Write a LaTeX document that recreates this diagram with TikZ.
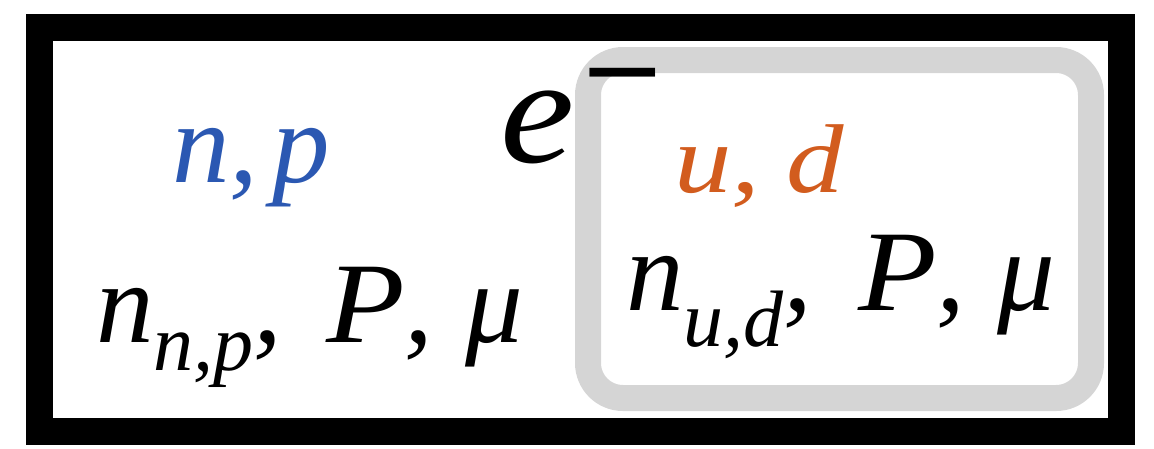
\documentclass[tikz,border=0pt]{standalone}
\usepackage{fontspec}
\setmainfont{Liberation Serif}
\definecolor{npblue}{HTML}{2B58B2}
\definecolor{udorange}{HTML}{D25C1E}
\definecolor{boxgray}{HTML}{D5D5D5}
\newcommand\mysub[2]{\raisebox{#1}{\fontsize{80}{80}\selectfont #2}}
\begin{document}
\begin{tikzpicture}[x=1pt,y=-1pt,
  txt/.style={inner sep=0pt, outer sep=0pt, anchor=base west},
  big/.style={txt, font=\itshape\fontsize{115}{115}\selectfont},
  frame/.style={draw=black, line width=27pt},
  graybox/.style={draw=boxgray, line width=26pt, rounded corners=35pt}]
\useasboundingbox (0,0) rectangle (1154,448);
\draw[frame] (39.5,27.5) rectangle (1121.5,431);
\draw[graybox] (588,60) rectangle (1091,398);
\node[big, text=npblue] (np) at (172,182) {n,\hspace{14pt}p};
\node[big, text=udorange] (ud) at (674,192) {\scalebox{1}[0.85]{u,\hspace{26pt}d}};
\node[txt, font=\itshape\fontsize{152}{152}\selectfont] (e) at (500,162) {\scalebox{1.1}[1]{e}\hspace{8pt}\raisebox{48pt}{\fontsize{126}{126}\selectfont\upshape\bfseries\scalebox{1.12}[1]{−}}};
\node[big] (left) at (96,342) {n\mysub{-28pt}{n,p},\hspace{44pt}\scalebox{1.12}[1]{P},\hspace{32pt}μ};
\node[big] (right) at (626,310) {n\mysub{-36pt}{u,d},\hspace{46pt}\scalebox{1.12}[1]{P},\hspace{32pt}μ};
\end{tikzpicture}
\end{document}
